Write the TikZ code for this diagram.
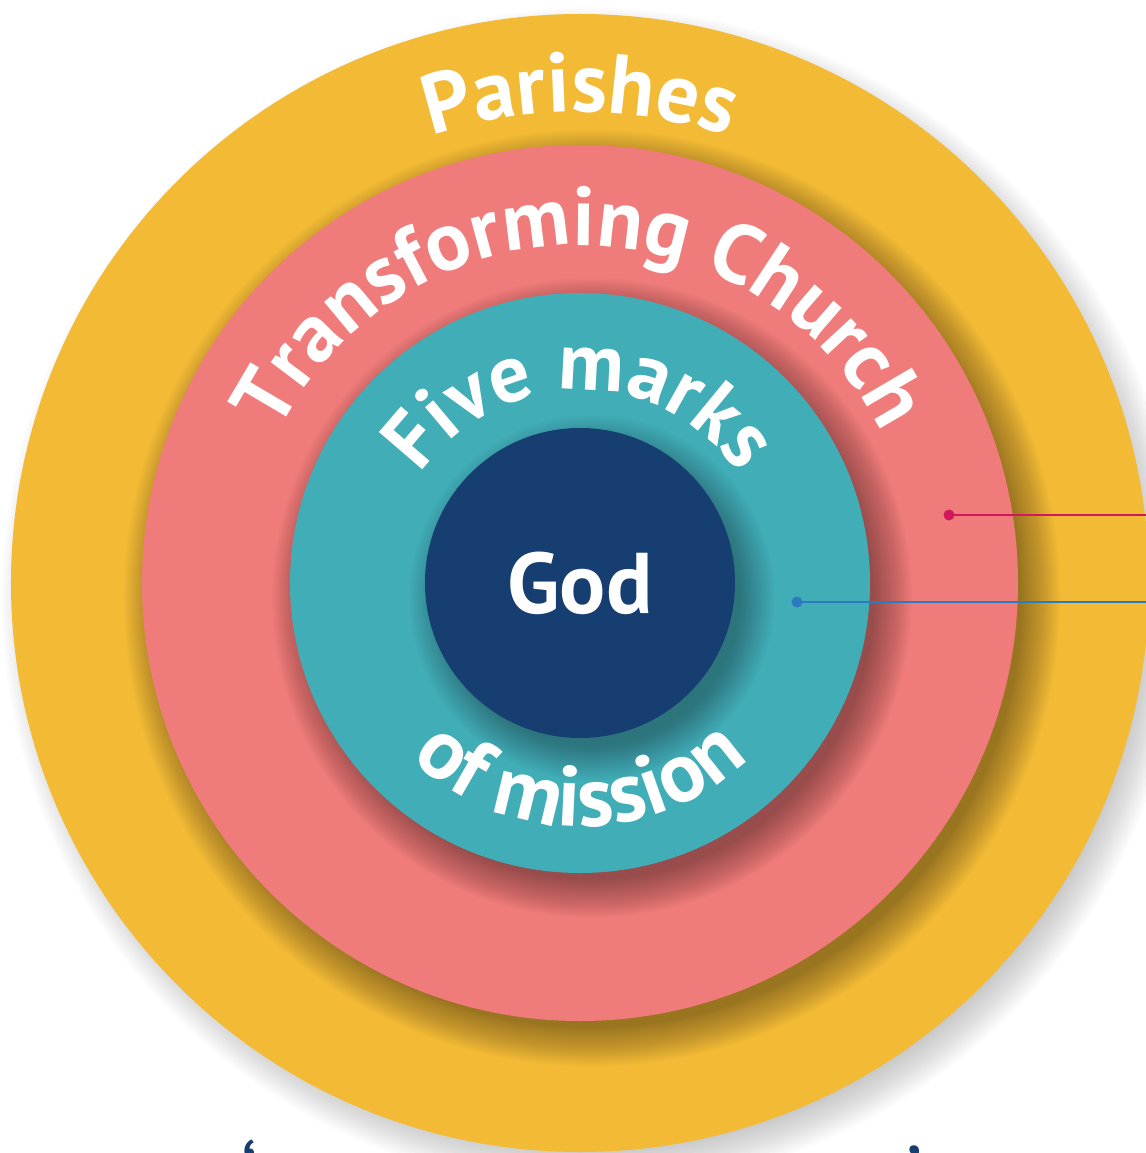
\documentclass[tikz,border=0pt]{standalone}
\usepackage{fontspec}
\setmainfont{PT Sans}
\usetikzlibrary{decorations.text}

\definecolor{ringyellow}{HTML}{F2BA35}
\definecolor{ringpink}{HTML}{EF7C7A}
\definecolor{ringteal}{HTML}{41ADB7}
\definecolor{godblue}{HTML}{163E70}
\definecolor{leadred}{HTML}{D3175E}
\definecolor{leadblue}{HTML}{2B7BC0}

% soft shadow under a disc: radius, spread, opacity per step
\newcommand{\ringshadow}[3]{%
  \foreach \k in {0,...,19}
    \fill[black, opacity=#3] (0.24,-0.3) circle ({#1+#2-\k*#2/15});
}

\begin{document}
\begin{tikzpicture}[
  ring/.style={circle, inner sep=0pt, minimum size=#1},
  arclabel/.style 2 args={decorate, decoration={text along path, text align=center, text color=white,
    text={|\bfseries\fontsize{#1}{#1}\selectfont|#2}}},
  lead/.style={line width=1.7pt},
  leaddot/.style={circle, inner sep=0pt, minimum size=0.22cm},
  quote/.style={text=godblue, font=\fontsize{48}{48}\selectfont, anchor=base}
]
\useasboundingbox (-11.6,-11.4) rectangle (11.32,11.66);
% Rings, outermost first, each over its own shadow
\ringshadow{11.0}{0.8}{0.016}
\node[ring=22.76cm, fill=ringyellow] (parishes) at (0,0) {};
\ringshadow{8.76}{0.6}{0.018}
\node[ring=17.52cm, fill=ringpink] (church) at (0,0) {};
\ringshadow{5.8}{0.6}{0.018}
\node[ring=11.6cm, fill=ringteal] (marks) at (0,0) {};
\ringshadow{3.1}{0.55}{0.016}
\node[ring=6.2cm, fill=godblue, text=white, font=\bfseries\fontsize{49}{49}\selectfont] (god) at (0,0) {God};
% Ring labels
\path[arclabel={48}{Parishes}] (170:9.42) arc[start angle=170, end angle=10, radius=9.42];
\path[arclabel={47.5}{Transforming Church}] (175:6.75) arc[start angle=175, end angle=5, radius=6.75];
\path[arclabel={46.5}{Five marks}] (175:3.86) arc[start angle=175, end angle=5, radius=3.86];
\path[arclabel={48.5}{of mission}] (190:4.87) arc[start angle=190, end angle=350, radius=4.87];
% Leaders to the right
\node[leaddot, fill=leadred] (churchdot) at (7.38,1.36) {};
\coordinate (churchend) at (11.32,1.36);
\draw[lead, leadred] (churchdot.center) -- (churchend);
\node[leaddot, fill=leadblue] (marksdot) at (4.34,-0.38) {};
\coordinate (marksend) at (11.32,-0.38);
\draw[lead, leadblue] (marksdot.center) -- (marksend);
% Quote marks below, cut by the page edge
\node[quote] (openquote) at (-6.6,-12.45) {‘};
\node[quote] (closequote) at (6.7,-12.45) {’};
\end{tikzpicture}
\end{document}
